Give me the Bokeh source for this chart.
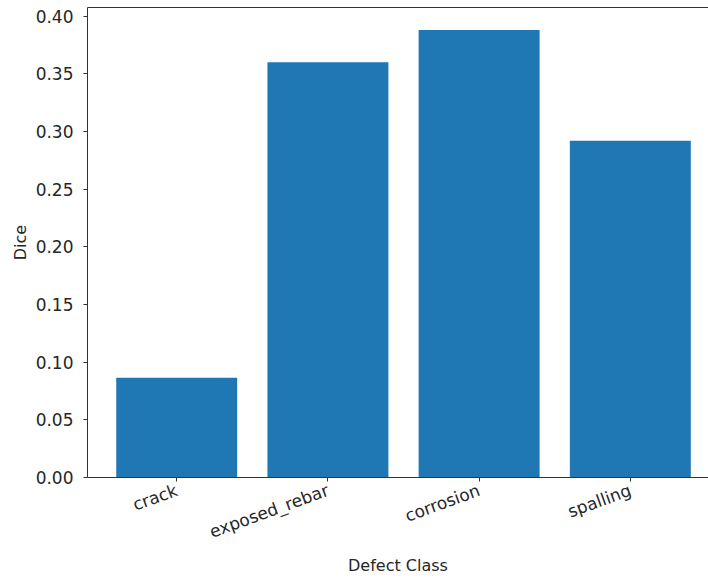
import math
from bokeh.plotting import figure
from bokeh.models import Range1d, FixedTicker, LinearAxis, ColumnDataSource, NumeralTickFormatter
from bokeh.embed import file_html
from bokeh.resources import INLINE

categories = ["crack", "exposed_rebar", "corrosion", "spalling"]
dice = [0.0865, 0.360, 0.388, 0.292]
y_ticks = [0.0, 0.05, 0.10, 0.15, 0.20, 0.25, 0.30, 0.35, 0.40]

positions = list(range(len(categories)))
src = ColumnDataSource(dict(x=positions, top=dice, name=categories))

FONT = "DejaVu Sans"
AX = "#333333"

p = figure(width=708, height=578, output_backend="svg", toolbar_location=None,
           x_range=Range1d(-0.59, 3.517), y_range=Range1d(0, max(dice) * 1.05),
           min_border_left=87, min_border_right=0, min_border_top=7, min_border_bottom=100)
p.outline_line_color = None
p.grid.visible = False
p.background_fill_color = "white"
p.border_fill_color = "white"

p.vbar(x="x", top="top", bottom=0, width=0.8, source=src, fill_color="#1f77b4", line_color=None)

xa = p.xaxis[0]
xa.ticker = FixedTicker(ticks=positions)
xa.major_label_overrides = {i: c for i, c in enumerate(categories)}
xa.major_label_orientation = math.radians(20)
xa.axis_label = "Defect Class"

ya = p.yaxis[0]
ya.ticker = FixedTicker(ticks=y_ticks)
ya.formatter = NumeralTickFormatter(format="0.00")
ya.axis_label = "Dice"

for ax in (xa, ya):
    ax.axis_line_color = AX
    ax.major_tick_line_color = AX
    ax.major_tick_out = 4
    ax.major_tick_in = 0
    ax.minor_tick_out = 0
    ax.minor_tick_in = 0
    ax.major_label_text_font = FONT
    ax.major_label_text_font_size = "17px"
    ax.major_label_text_color = "#262626"
    ax.axis_label_text_font = FONT
    ax.axis_label_text_font_size = "16px"
    ax.axis_label_text_font_style = "normal"
    ax.axis_label_text_color = "#262626"

ya.major_label_standoff = 10
ya.axis_label_standoff = 3
xa.major_label_standoff = 8
xa.axis_label_standoff = 2

top_ax = LinearAxis(ticker=FixedTicker(ticks=[]), major_label_text_font_size="0px",
                    major_tick_out=0, major_tick_in=0, minor_tick_out=0, minor_tick_in=0,
                    major_label_standoff=0, axis_line_color=AX)
p.add_layout(top_ax, "above")

open("out.html", "w").write(file_html(p, INLINE))
